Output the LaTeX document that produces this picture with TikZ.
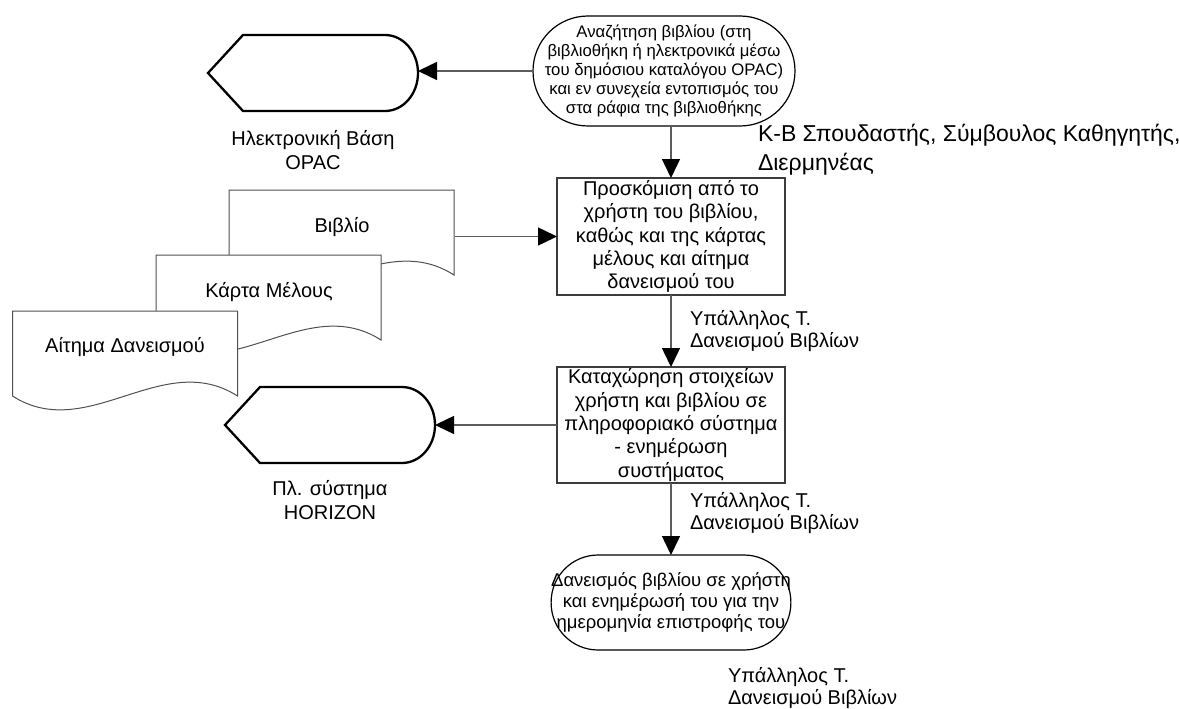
\documentclass[tikz,border=0pt]{standalone}
\usepackage{fontspec}
\setmainfont{Liberation Sans}
\usetikzlibrary{arrows.meta,calc}

\definecolor{linegray}{HTML}{5C5C5C}
\definecolor{edgegray}{HTML}{3C3C3C}
\definecolor{docgray}{HTML}{505050}

\newcommand\setfs[2]{\fontsize{#1}{#2}\selectfont}

% document symbol with a wavy lower edge; #1 = left x, #2 = top y
\newcommand\drawdoc[2]{%
  \draw[docline] (#1,#2) -- ({#1+225},#2) -- ({#1+225},{#2+85})
    .. controls ({#1+150},{#2+37}) and ({#1+75},{#2+133}) .. (#1,{#2+85}) -- cycle;}

% display symbol (pointed left end, rounded right end) around a named node
\newcommand\drawdisplay[1]{%
  \draw[displine] (#1.west) -- ([xshift=35pt]#1.north west)
    -- ([xshift=-33pt]#1.north east)
    arc[start angle=-90, end angle=90, x radius=33, y radius=38]
    -- ([xshift=35pt]#1.south west) -- cycle;}

\begin{document}
\begin{tikzpicture}[x=1pt,y=-1pt,
  every node/.style={inner sep=0pt, outer sep=0pt},
  process/.style={draw=edgegray, line width=1.3pt, fill=white,
    minimum width=228pt, align=center, font=\setfs{20}{23.4}},
  terminal/.style={draw=black, line width=1.2pt, fill=white, align=center},
  dispnode/.style={minimum width=210pt, minimum height=76pt},
  displine/.style={draw=black, line width=2.3pt, line join=miter, fill=white},
  docline/.style={draw=docgray, line width=1pt, fill=white},
  doctext/.style={minimum width=225pt, font=\setfs{20}{23}},
  caption/.style={align=center, font=\setfs{20}{24.5}},
  role/.style={align=left, anchor=west, font=\setfs{20}{22.5}},
  flow/.style={draw=linegray, line width=1.5pt,
    -{Triangle[length=19pt, width=18pt, color=black]}}]

\useasboundingbox (0,0) rectangle (1179,709);

% start and end of the process
\node[terminal, rounded corners=55pt, minimum width=262pt, minimum height=110pt,
  font=\setfs{16.7}{19.2}] (t1) at (664,71)
  {Αναζήτηση βιβλίου (στη\\βιβλιοθήκη ή ηλεκτρονικά μέσω\\του δημόσιου καταλόγου OPAC)\\και εν συνεχεία εντοπισμός του\\στα ράφια της βιβλιοθήκης};

\node[process, minimum height=117pt] (p1) at (671,236.5)
  {Προσκόμιση από το\\χρήστη του βιβλίου,\\καθώς και της κάρτας\\μέλους και αίτημα\\δανεισμού του};

\node[process, minimum height=116pt] (p2) at (671,425)
  {Καταχώρηση στοιχείων\\χρήστη και βιβλίου σε\\πληροφοριακό σύστημα\\- ενημέρωση\\συστήματος};

\node[terminal, rounded corners=47pt, minimum width=232pt, minimum height=95pt,
  font=\setfs{18.5}{21}] (t2) at (671,602.5)
  {Δανεισμός βιβλίου σε χρήστη\\και ενημέρωσή του για την\\ημερομηνία επιστροφής του};

% display symbols for the electronic systems
\node[dispnode] (opac) at (313,73) {};
\drawdisplay{opac}
\node[caption] (opaccap) at (313,150) {Ηλεκτρονική Βάση\\OPAC};

\node[dispnode] (hz) at (330,425) {};
\drawdisplay{hz}
\node[caption] (hzcap) at (330,500) {Πλ. σύστημα\\HORIZON};

% stacked documents
\drawdoc{229}{190}
\node[doctext] (bib) at (342,227) {Βιβλίο};
\drawdoc{156}{255}
\node[doctext] (card) at (269,292) {Κάρτα Μέλους};
\drawdoc{12.5}{311}
\node[doctext] (req) at (125,347) {Αίτημα Δανεισμού};

% roles
\node[role, font=\setfs{23}{29}] (r0) at (758,150)
  {Κ-Β Σπουδαστής, Σύμβουλος Καθηγητής,\\Διερμηνέας};
\node[role] (r1) at (690,331) {Υπάλληλος Τ.\\Δανεισμού Βιβλίων};
\node[role] (r2) at (690,513) {Υπάλληλος Τ.\\Δανεισμού Βιβλίων};
\node[role] (r3) at (728,688) {Υπάλληλος Τ.\\Δανεισμού Βιβλίων};

% connectors
\draw[flow] (t1.west) -- (t1.west -| opac.east);
\draw[flow] (p1.north |- t1.south) -- (p1.north);
\draw[flow] (p1.west -| bib.east) -- (p1.west);
\draw[flow] (p1.south) -- (p2.north);
\draw[flow] (p2.west) -- (p2.west -| hz.east);
\draw[flow] (p2.south) -- (t2.north);

\end{tikzpicture}
\end{document}
